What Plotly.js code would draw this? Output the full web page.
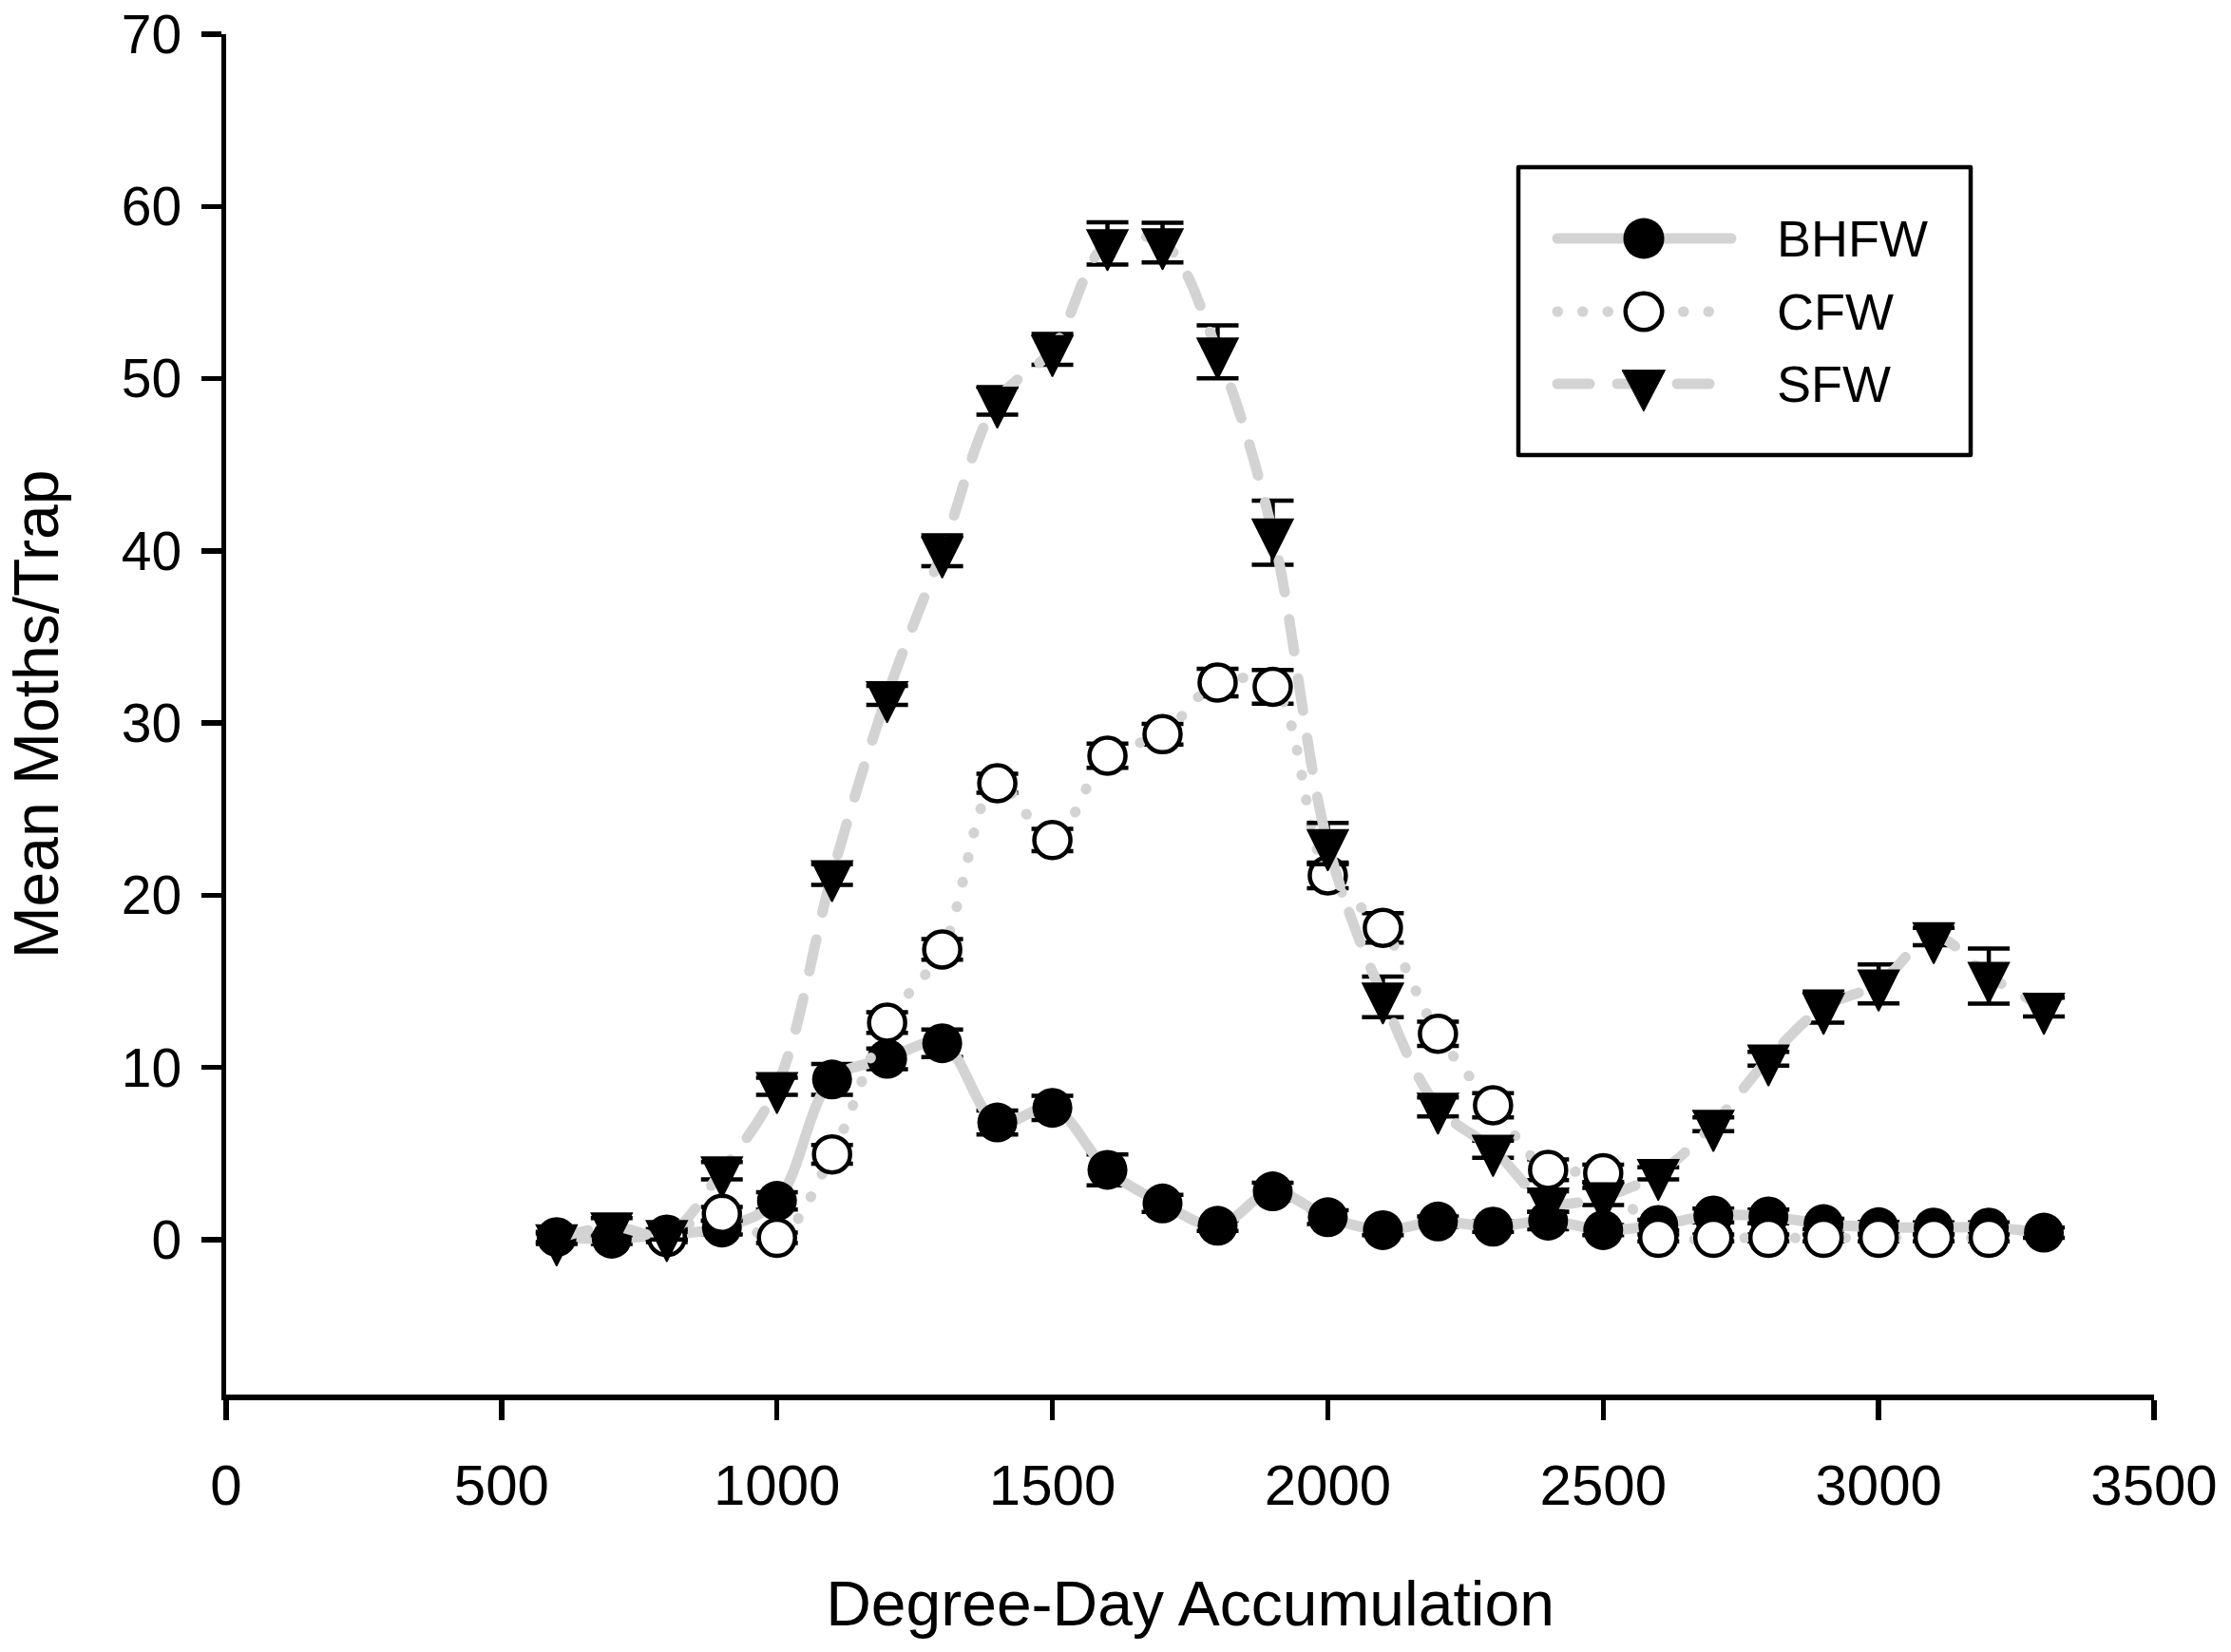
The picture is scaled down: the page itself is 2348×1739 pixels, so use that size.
<!DOCTYPE html>
<html>
<head>
<meta charset="utf-8">
<script src="https://cdn.plot.ly/plotly-3.0.1.min.js"></script>
<style>
html,body{margin:0;padding:0;background:#fff;}
#chart{width:2348px;height:1739px;}
</style>
</head>
<body>
<div id="chart"></div>
<script>
// ---------- data ----------
const degreeDays = [600,700,800,900,1000,1100,1200,1300,1400,1500,1600,1700,1800,1900,2000,2100,2200,2300,2400,2500,2600,2700,2800,2900,3000,3100,3200,3300];

const bhfw    = [0.15,0.05,0.3,0.7,2.25,9.3,10.5,11.4,6.8,7.65,4.05,2.1,0.8,2.8,1.3,0.55,1.05,0.75,1.1,0.55,0.85,1.4,1.35,0.9,0.72,0.7,0.7,0.4];
const bhfwErr = [0.3,0.3,0.3,0.4,0.5,0.9,0.6,0.8,0.7,0.7,0.9,0.5,0.3,0.5,0.4,0.3,0.3,0.3,0.5,0.3,0.3,0.4,0.4,0.3,0.3,0.3,0.3,0.3];

const cfw     = [null,null,0.15,1.5,0.1,4.95,12.6,16.85,26.5,23.2,28.1,29.35,32.35,32.1,21.15,18.1,11.95,7.8,4.05,3.85,0.1,0.1,0.1,0.1,0.1,0.1,0.1,null];
const cfwErr  = [null,null,0.3,0.4,0.3,0.55,0.6,0.6,0.55,0.65,0.7,0.6,0.8,0.98,0.75,0.85,0.7,0.7,0.6,0.5,0.2,0.2,0.2,0.2,0.2,0.2,0.2,null];

const sfw     = [0.05,0.75,0.3,4.0,8.9,21.2,31.6,40.0,48.7,51.7,57.85,57.9,51.55,41.05,23.0,14.1,7.7,5.25,2.2,2.5,3.85,6.7,10.5,13.5,14.85,17.6,15.3,13.5];
const sfwErr  = [0.3,0.5,0.3,0.5,0.5,0.6,0.55,0.9,0.8,0.9,1.23,1.15,1.54,1.86,1.2,1.18,0.55,0.5,0.6,0.5,0.35,0.4,0.4,0.9,1.13,0.5,1.6,0.55];

const seriesNames = ['BHFW','CFW','SFW'];
const xTickVals = [0,500,1000,1500,2000,2500,3000,3500];
const yTickVals = [0,10,20,30,40,50,60,70];
const xTitle = 'Degree-Day Accumulation';
const yTitle = 'Mean Moths/Trap';

// ---------- styling ----------
const FONT = 'Liberation Sans, Arial, Helvetica, sans-serif';
const GRAY = '#d3d3d3';
const LW = 11;
const DOT = '0.5px,26px';
const DASH = '34px,29px';
const TRI = 43;
const AXW = 5.5;

const W = 2348, H = 1739;
const M = {l:238, r:81, t:36, b:271};
const plotW = W - M.l - M.r, plotH = H - M.t - M.b;
const px = v => (v - M.l) / plotW;            // page px -> paper x
const py = v => (M.t + plotH - v) / plotH;     // page px -> paper y

function errs(arr){
  return {type:'data', array:arr, visible:true, color:'#000', thickness:4.5, width:22};
}

const traces = [
  {
    name: seriesNames[0], x: degreeDays, y: bhfw, type:'scatter', mode:'lines+markers',
    line:{color:GRAY, width:LW, shape:'spline', smoothing:1},
    marker:{symbol:'circle', size:42, color:'#000', line:{width:0}},
    error_y: errs(bhfwErr), showlegend:false
  },
  {
    name: seriesNames[1], x: degreeDays, y: cfw, type:'scatter', mode:'lines+markers',
    line:{color:GRAY, width:LW, shape:'spline', smoothing:1, dash:DOT},
    marker:{symbol:'circle', size:38, color:'#fff', line:{width:4.5, color:'#000'}},
    error_y: errs(cfwErr), showlegend:false
  },
  {
    name: seriesNames[2], x: degreeDays, y: sfw, type:'scatter', mode:'lines+markers',
    line:{color:GRAY, width:LW, shape:'spline', smoothing:1, dash:DASH},
    marker:{symbol:'arrow-down', size:TRI, standoff:TRI*2/3, color:'#000', line:{width:1.5, color:'#000'}},
    error_y: errs(sfwErr), showlegend:false
  }
];

// ---------- hand-built legend (big symbols, as in the reference) ----------
const legBox = {x0:1598, x1:2074, y0:176, y1:479};
const rowY = [251, 328, 404];
const lineX0 = 1639, lineX1 = 1822, markX = 1730, textX = 1868;

const shapes = [
  {type:'rect', xref:'paper', yref:'paper', x0:px(legBox.x0), x1:px(legBox.x1), y0:py(legBox.y1), y1:py(legBox.y0),
   line:{color:'#000', width:4.5}, fillcolor:'rgba(0,0,0,0)', layer:'above'}
];
const dashes = ['solid', DOT, DASH];
rowY.forEach((yy, i) => {
  shapes.push({type:'line', xref:'paper', yref:'paper', x0:px(lineX0), x1:px(lineX1), y0:py(yy), y1:py(yy),
    line:{color:GRAY, width:LW, dash:dashes[i]}, layer:'above'});
});
// filled circle
(function(){ const r = 21.5, yy = rowY[0];
  shapes.push({type:'circle', xref:'paper', yref:'paper', x0:px(markX-r), x1:px(markX+r), y0:py(yy+r), y1:py(yy-r),
    fillcolor:'#000', line:{width:0}, layer:'above'}); })();
// open circle
(function(){ const r = 19.25, yy = rowY[1];
  shapes.push({type:'circle', xref:'paper', yref:'paper', x0:px(markX-r), x1:px(markX+r), y0:py(yy+r), y1:py(yy-r),
    fillcolor:'#fff', line:{width:4.5, color:'#000'}, layer:'above'}); })();
// down triangle (centroid on the line)
(function(){ const yy = rowY[2], hw = 22.5, top = yy - 14.3, bot = yy + 28.7;
  const p = 'M' + px(markX-hw) + ',' + py(top) + ' L' + px(markX+hw) + ',' + py(top) + ' L' + px(markX) + ',' + py(bot) + ' Z';
  shapes.push({type:'path', xref:'paper', yref:'paper', path:p, fillcolor:'#000', line:{width:1, color:'#000'}, layer:'above'}); })();

const annotations = rowY.map((yy, i) => ({
  xref:'paper', yref:'paper', x:px(textX), y:py(yy), xanchor:'left', yanchor:'middle',
  text: seriesNames[i], showarrow:false, font:{family:FONT, size:54, color:'#000'}
}));

const axisCommon = {
  showline:true, linecolor:'#000', linewidth:AXW, mirror:false,
  ticks:'outside', ticklen:21, tickwidth:AXW, tickcolor:'#000',
  showgrid:false, zeroline:false, fixedrange:true, automargin:false
};

const layout = {
  width:W, height:H, margin:M,
  paper_bgcolor:'#fff', plot_bgcolor:'#fff',
  font:{family:FONT, color:'#000'},
  showlegend:false,
  xaxis: Object.assign({}, axisCommon, {
    range:[0,3500], tickmode:'array', tickvals:xTickVals, ticklabelstandoff:17,
    tickfont:{family:FONT, size:60, color:'#000'},
    title:{text:xTitle, font:{family:FONT, size:66, color:'#000'}, standoff:71}
  }),
  yaxis: Object.assign({}, axisCommon, {
    range:[-9,70], tickmode:'array', tickvals:yTickVals, ticklabelstandoff:9,
    tickfont:{family:FONT, size:57, color:'#000'},
    title:{text:yTitle, font:{family:FONT, size:66, color:'#000'}, standoff:46}
  }),
  shapes: shapes,
  annotations: annotations
};

Plotly.newPlot('chart', traces, layout, {staticPlot:true, displayModeBar:false}).then(gd => {
  gd.querySelectorAll('path.js-line, .shapelayer path').forEach(p => {
    p.style.strokeLinecap = 'round';
    p.style.strokeLinejoin = 'round';
  });
});
</script>
</body>
</html>
